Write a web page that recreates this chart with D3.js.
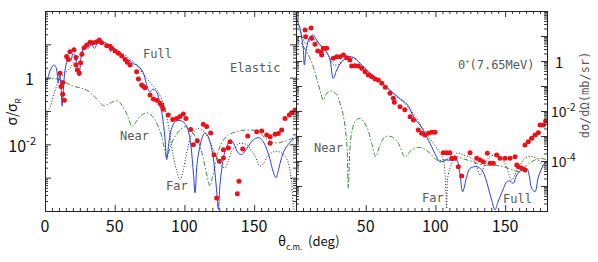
<!DOCTYPE html>
<html>
<head>
<meta charset="utf-8">
<script src="https://d3js.org/d3.v7.min.js"></script>
<style>
  body { margin: 0; background: #fff; }
  svg { display: block; }
  .frame { fill: none; stroke: #222; stroke-width: 1px; }
  .axis path { display: none; }
  .axis line { stroke: #333; }
  .tick-label { font-family: "Noto Sans CJK JP", "DejaVu Sans", sans-serif; fill: #111; }
  .note { font-family: "DejaVu Sans Mono", monospace; font-size: 12px; fill: #5a5a5a; }
</style>
</head>
<body>
<svg id="chart" width="598" height="262"></svg>
<script>
// ---- elastic (left panel), sigma/sigma_R, [theta, value] ----
const elasticExp = [
  [10.8,1.35],[11.5,0.54],[12.7,0.71],[12.7,0.32],[13.9,0.21],[15.5,4.3],[16.7,3.5],[17.9,6.0],
  [20.8,6.9],[22.2,4.0],[22.2,2.4],[23.2,1.7],[24.6,1.35],[25.5,2.8],[26.5,5.0],[28,7.9],
  [29.9,9.5],[32.3,11.5],[34.7,11.2],[37.1,12],[39,13.5],[40.6,11.2],[44.2,9.1],[46.6,8.7],
  [47.8,7.6],[50.2,6.3],[52.6,5.4],[55,4.5],[57.4,3.5],[59,2.9],[61,2.4],[65.7,1.5],
  [67,0.91],[69.3,0.60],[70.5,0.55],[71.7,0.50],[75.3,0.30],[77.7,0.23],[80.1,0.21],[82.5,0.17],
  [83.7,0.145],[84.8,0.112],[88.4,0.076],[91.6,0.056],[94.4,0.060],[96.8,0.068],[99.2,0.081],[101.1,0.060],
  [104.5,0.028],[106.4,0.0098],[109.2,0.0129],[113.5,0.040],[115.9,0.034],[118.8,0.022],[121.2,0.0049],[123.1,0.000245],
  [125,0.0031],[127.9,0.0069],[127.9,0.0039],[131.5,0.0078],[132.7,0.012],[137.9,0.00033],[139.1,0.00078],[141.8,0.0072],
  [145.4,0.0178],[151.8,0.024],[155.4,0.025],[159,0.019],[161.4,0.017],[161.4,0.0107],[165,0.020],[167.3,0.021],
  [169.7,0.027],[172.1,0.060],[175.2,0.076],[176.9,0.089],[179.3,0.107]
];
const elasticFull = [
  [0,0.76],[2,1.0],[4,1.78],[6.5,2.4],[8,2.0],[9.5,0.71],[10.5,1.26],[11.5,0.5],[12.3,0.14],[13,0.32],
  [14,1.26],[15.5,2.8],[17,3.5],[18.5,3.2],[20,5.2],[21.5,4.8],[23,2.5],[24.5,1.12],[26,4.5],[28.5,8.9],
  [31,7.6],[33,10],[35.5,7.6],[38,11.2],[41,10],[43,11.2],[45.5,9.5],[47,6.0],[49,7.9],[51,6.6],
  [55,5.0],[58,3.8],[61,3.2],[63.5,2.6],[66,2.4],[68,2.0],[70.5,1.41],[72.5,0.71],[75,0.38],[77.5,0.45],
  [80,0.38],[82.5,0.158],[84,0.079],[86,0.0158],[87.3,0.0035],[89,0.0126],[91,0.032],[93.5,0.048],[95.6,0.052],[98,0.050],
  [100.4,0.042],[102.5,0.028],[104.5,0.010],[106.5,0.00126],[107.6,0.00035],[109,0.0025],[110.7,0.0071],[112.7,0.0158],[114.7,0.022],[116.5,0.019],
  [118.3,0.012],[120.3,0.005],[121.9,0.00138],[123.3,0.00032],[124.3,0.000112],[125.5,0.00063],[126.7,0.00174],[128.5,0.005],[130.3,0.0085],[132.7,0.0132],
  [134.5,0.012],[136.3,0.0085],[138.5,0.0056],[141,0.0049],[143.5,0.0063],[145.8,0.0087],[148.5,0.0126],[151.8,0.0155],[154,0.0158],[156.6,0.012],
  [159,0.0071],[161.4,0.0035],[163.5,0.00158],[165.7,0.001],[167.5,0.00178],[169.7,0.004],[172,0.0071],[174.5,0.01],[177,0.0132],[180,0.0158]
];
const elasticFar = [
  [1,0.1],[3.5,0.126],[5.5,0.25],[7.5,0.45],[9.5,0.76],[11,1.0],[13,1.2],[16.7,1.7],[20.3,2.7],[23.9,4.3],
  [27.5,6.8],[32,9.5],[37,11.2],[42,11.2],[47,8.9],[53.8,6.0],[58,4.5],[63.3,3.0],[68,1.78],[72.9,0.95],
  [77,0.6],[80.1,0.43],[84.8,0.178],[87,0.079],[89.5,0.02],[92,0.0044],[94.5,0.00158],[96.8,0.00087],[99,0.00158],[101.6,0.0055],
  [105.2,0.019],[110,0.030],[114.7,0.022],[117.5,0.0141],[120.7,0.0069],[124,0.0035],[127,0.0022],[129.1,0.00195],[131.5,0.0032],[133.9,0.0062],
  [137,0.0089],[139.8,0.0107],[144.6,0.0098],[147.5,0.0071],[150.6,0.0044],[154.2,0.0022],[157,0.0028],[160,0.0045],[165,0.0062],[169.7,0.0055],
  [172.5,0.0042],[174.5,0.0028],[176.9,0.00069],[178.1,0.000138],[179,0.0001]
];
const elasticNear = [
  [0,0.89],[5,0.93],[10,0.89],[15,0.71],[20,0.56],[25,0.5],[30,0.42],[35,0.28],[39,0.19],[42,0.145],
  [45,0.158],[49,0.19],[52.5,0.2],[55.5,0.141],[58.5,0.085],[60.5,0.05],[62.2,0.034],[64,0.04],[65.7,0.05],[69.3,0.076],
  [73,0.089],[76,0.076],[78.9,0.054],[81.5,0.032],[83.7,0.0178],[85.5,0.0079],[87.3,0.0039],[89,0.0063],[90.9,0.011],[95,0.022],
  [100.4,0.034],[105.2,0.024],[110,0.012],[112.5,0.0056],[114.7,0.0022],[116.5,0.001],[118.3,0.00055],[120,0.001],[121.9,0.0022],[124,0.0056],
  [126.7,0.011],[131.5,0.019],[137.5,0.024],[144.6,0.027],[151.8,0.025],[157.8,0.0155],[165,0.011],[170.9,0.012],[178.1,0.0155],[180,0.0166]
];

// ---- 0+ (7.65 MeV) (right panel), dsigma/dOmega in mb/sr ----
const hoyleExp = [
  [6.5,17.4],[6.9,9.3],[10.8,21],[11.2,8.1],[13.6,4.7],[15.6,2.5],[18,2.3],[18.4,1.74],[19.6,3.2],[22,3.2],
  [26.7,1.29],[29.2,1.48],[31.6,1.48],[34,1.74],[36.4,1.35],[38.7,1.1],[39.9,0.63],[42.3,0.65],[44.7,0.63],[47.1,0.51],
  [49.5,0.37],[51.9,0.275],[54.3,0.234],[56.7,0.19],[59,0.174],[61.5,0.129],[64,0.089],[67.4,0.051],[69.8,0.032],[70.5,0.0224],
  [74.6,0.0148],[78,0.0112],[81.8,0.0059],[84.2,0.0044],[87.7,0.00174],[90.1,0.00129],[92.5,0.0011],[94.9,0.00129],[97.3,0.00141],[99.7,0.00141],
  [105.6,0.000214],[108,0.000214],[110.4,0.000214],[111.7,0.000129],[114,0.000129],[116.4,5.9e-5],[118.8,2.5e-5],[124.8,0.000214],[129.6,0.000129],[132,0.00011],
  [134.3,9.3e-5],[137.2,0.000204],[139.2,8.1e-5],[141.5,8.1e-5],[143.9,0.000174],[146.3,0.000129],[149.9,0.000129],[153.5,0.000129],[157.1,0.000148],[158.3,6.9e-5],
  [159.5,5.9e-5],[161.9,5.1e-5],[164.2,4.4e-5],[164.2,0.00044],[166.6,0.00059],[169,0.00081],[171.4,0.0011],[173.8,0.00135],[175,0.00275],[177.4,0.00275],[179,0.004]
];
const hoyleFull = [
  [0,56],[2.9,20],[4.1,8.1],[5.2,3.2],[6,0.69],[7.5,3.2],[10,9.3],[12.4,11],[14.8,6.9],[18.4,3.7],
  [22,2.3],[24.4,1.1],[26.7,0.2],[29.2,0.44],[32.8,0.93],[37.5,1.48],[42.3,1.29],[47.1,0.69],[51.9,0.37],[59,0.174],
  [65.7,0.081],[72.9,0.037],[80.1,0.0174],[82.6,0.0093],[85,0.005],[88.9,0.00275],[93,0.00112],[97.3,0.00037],[100,0.000178],[103.3,9.3e-5],
  [108,0.00011],[112,0.000105],[115.2,0.00011],[117.5,3.2e-5],[119.5,5.9e-6],[122.4,2.3e-5],[124.8,5.1e-5],[129.6,5.9e-5],[133.2,4.4e-5],[136,2e-5],
  [138,8.1e-6],[140.5,2.5e-6],[142.7,1.1e-6],[144.5,2e-6],[146.3,3.7e-6],[148.8,7.9e-6],[151.1,1.48e-5],[153.5,1.58e-5],[155.8,1.29e-5],[158.3,2.75e-5],
  [161.9,4.4e-5],[165.5,5.1e-5],[167.3,2.5e-5],[169,8.1e-6],[171.4,5.9e-6],[173.8,2.3e-5],[177.4,6.9e-5],[180,1e-4]
];
const hoyleFar = [
  [0,50],[3,17.8],[5,7.9],[7,5.0],[10,6.3],[13,7.1],[16,5.0],[20,2.8],[24,1.41],[27,0.71],
  [30,0.71],[34,1.12],[38,1.41],[43,1.12],[48,0.63],[55,0.28],[62,0.126],[70,0.05],[78,0.02],[84,0.0079],
  [90,0.0025],[96,0.00079],[102,0.000275],[105.6,0.00011],[107,2.5e-5],[108,1.26e-6],[109,2.5e-5],[111.7,8.1e-5],[115.2,0.000204],[120,0.000174],
  [126,0.000129],[129,7.1e-5],[132,2.75e-5],[135,6.3e-5],[138.5,0.000141],[142.7,0.000174],[147.5,0.000129],[151,5.6e-5],[154.7,1.74e-5],[157,2.8e-5],
  [159.5,5.1e-5],[164.2,0.000129],[169,0.000151],[173,0.00012],[177,6.3e-5],[180,4e-5]
];
const hoyleNear = [
  [0,7.9],[2.9,5.9],[8.8,1.74],[12.4,0.59],[14.8,0.2],[17.2,0.069],[19.6,0.0275],[22,0.051],[25.6,0.063],[29.2,0.044],
  [31.6,0.02],[34,0.0063],[36.4,0.00051],[37.5,8.1e-6],[38.7,0.00032],[39.9,0.00129],[42.3,0.0037],[45.9,0.0051],[50.7,0.00234],[54.3,0.00051],
  [57.2,0.000148],[60.2,0.00044],[63.8,0.00093],[68.6,0.00093],[73.4,0.00051],[78.2,0.000148],[82.8,0.000275],[87,0.00035],[91.3,0.00032],[96.1,0.000204],
  [100.9,0.00011],[105,0.000105],[110.4,0.000129],[115.2,0.000148],[121,0.000117],[127.2,9.3e-5],[134.3,6.9e-5],[141.5,6.9e-5],[148.7,5.9e-5],[155.8,4.4e-5],
  [160.6,3.7e-5],[165.5,6.9e-5],[171.4,0.00011],[176,0.000126],[180,0.000112]
];

const xMajor = [0, 50, 100, 150];

const svg = d3.select("#chart");
const plotTop = 11, plotBottom = 211;

const panels = [
  { id: "el", x0: 45, x1: 296, yDomain: [1e-4, 1e2], exp: elasticExp, full: elasticFull, far: elasticFar, near: elasticNear },
  { id: "ho", x0: 296, x1: 547, yDomain: [1e-6, 1e2], exp: hoyleExp, full: hoyleFull, far: hoyleFar, near: hoyleNear }
];

panels.forEach(p => {
  const x = d3.scaleLinear().domain([0, 180]).range([p.x0, p.x1]);
  const y = d3.scaleLog().domain(p.yDomain).range([plotBottom, plotTop]);
  p.x = x; p.y = y;

  svg.append("clipPath").attr("id", "clip-" + p.id)
    .append("rect").attr("x", p.x0).attr("y", plotTop).attr("width", p.x1 - p.x0).attr("height", plotBottom - plotTop);

  const g = svg.append("g").attr("clip-path", `url(#clip-${p.id})`);
  const line = d3.line().x(d => x(d[0])).y(d => y(d[1])).curve(d3.curveCatmullRom.alpha(0.5));

  g.append("path").datum(p.near).attr("d", line)
    .attr("fill", "none").attr("stroke", "#3d8c3d").attr("stroke-width", 1)
    .attr("stroke-dasharray", "5,2,1.5,2");
  g.append("path").datum(p.far).attr("d", line)
    .attr("fill", "none").attr("stroke", "#222").attr("stroke-width", 1)
    .attr("stroke-dasharray", "1,1.8");
  g.append("path").datum(p.full).attr("d", line)
    .attr("fill", "none").attr("stroke", "#2a3ee6").attr("stroke-width", 1);
  g.selectAll("circle").data(p.exp).join("circle")
    .attr("cx", d => x(d[0])).attr("cy", d => y(d[1])).attr("r", 2.5)
    .attr("fill", "#ea121a");

  // ticks, all pointing inward
  const xMinor = d3.range(0, 181, 5).filter(v => !xMajor.includes(v));
  const yAll = y.ticks();
  const isDecade = v => Math.abs(Math.log10(v) - Math.round(Math.log10(v))) < 1e-9;
  const yMaj = yAll.filter(isDecade), yMin = yAll.filter(v => !isDecade(v));

  const addAxis = (axisFn, scale, vals, size, tr) => {
    svg.append("g").attr("class", "axis").attr("transform", tr)
      .call(axisFn(scale).tickValues(vals).tickSize(-size).tickFormat(""));
  };
  addAxis(d3.axisBottom, x, xMinor, 3, `translate(0,${plotBottom})`);
  addAxis(d3.axisBottom, x, xMajor, 6, `translate(0,${plotBottom})`);
  addAxis(d3.axisTop, x, xMinor, 3, `translate(0,${plotTop})`);
  addAxis(d3.axisTop, x, xMajor, 6, `translate(0,${plotTop})`);
  addAxis(d3.axisLeft, y, yMin, 3, `translate(${p.x0},0)`);
  addAxis(d3.axisLeft, y, yMaj, 6, `translate(${p.x0},0)`);
  addAxis(d3.axisRight, y, yMin, 3, `translate(${p.x1},0)`);
  addAxis(d3.axisRight, y, yMaj, 6, `translate(${p.x1},0)`);

  svg.append("rect").attr("class", "frame")
    .attr("x", p.x0 + 0.5).attr("y", plotTop + 0.5)
    .attr("width", p.x1 - p.x0).attr("height", plotBottom - plotTop);
});

// x tick labels
const [L, R] = panels;
xMajor.forEach(v => {
  svg.append("text").attr("class", "tick-label").attr("x", L.x(v)).attr("y", 232)
    .attr("text-anchor", "middle").attr("font-size", 16).text(v);
});
xMajor.filter(v => v > 0).forEach(v => {
  svg.append("text").attr("class", "tick-label").attr("x", R.x(v)).attr("y", 232)
    .attr("text-anchor", "middle").attr("font-size", 16).text(v);
});

// y tick labels, left panel
svg.append("text").attr("class", "tick-label").attr("x", 34).attr("y", L.y(1) + 7)
  .attr("text-anchor", "end").attr("font-size", 16).text("1");
const lt = svg.append("text").attr("class", "tick-label").attr("x", 36).attr("y", L.y(1e-2) + 8)
  .attr("text-anchor", "end").attr("font-size", 16);
lt.append("tspan").text("10");
lt.append("tspan").attr("font-size", 11).attr("dy", -7).text("-2");

// y tick labels, right panel
svg.append("text").attr("class", "tick-label").attr("x", 555).attr("y", R.y(1) + 7)
  .attr("font-size", 15).text("1");
[1e-2, 1e-4].forEach(v => {
  const t = svg.append("text").attr("class", "tick-label").attr("x", 551).attr("y", R.y(v) + 6)
    .attr("font-size", 14);
  t.append("tspan").text("10");
  t.append("tspan").attr("font-size", 10).attr("dy", -6).text("-" + Math.round(-Math.log10(v)));
});

// axis titles
const xt = svg.append("text").attr("class", "tick-label").attr("y", 246).attr("x", 278).attr("font-size", 14).attr("fill", "#333");
xt.append("tspan").text("θ");
xt.append("tspan").attr("font-size", 8).attr("dy", 4).text("c.m.");
xt.append("tspan").attr("font-size", 13).attr("dy", -4).attr("dx", 6).text("(deg)");

const yl = svg.append("text").attr("class", "tick-label").attr("font-size", 14).attr("fill", "#333")
  .attr("text-anchor", "middle").attr("transform", "translate(17,112) rotate(-90)");
yl.append("tspan").text("σ/σ");
yl.append("tspan").attr("font-size", 8).attr("dy", 4).text("R");

svg.append("text").attr("class", "note").attr("fill", "#444")
  .attr("text-anchor", "middle").attr("transform", "translate(589,95) rotate(-90)")
  .text("dσ/dΩ(mb/sr)");

// curve / panel notes
const notes = [
  ["Full", 143, 58], ["Elastic", 230, 72], ["Near", 120, 140], ["Far", 166, 190],
  ["Near", 314, 152], ["Far", 422, 202], ["Full", 503, 203]
];
notes.forEach(n => {
  svg.append("text").attr("class", "note").attr("x", n[1]).attr("y", n[2]).text(n[0]);
});
const ho = svg.append("text").attr("class", "note").attr("x", 458).attr("y", 69);
ho.append("tspan").text("0");
ho.append("tspan").attr("font-size", 7).attr("dy", -5).text("+");
ho.append("tspan").attr("dy", 5).text("(7.65MeV)");
</script>
</body>
</html>
